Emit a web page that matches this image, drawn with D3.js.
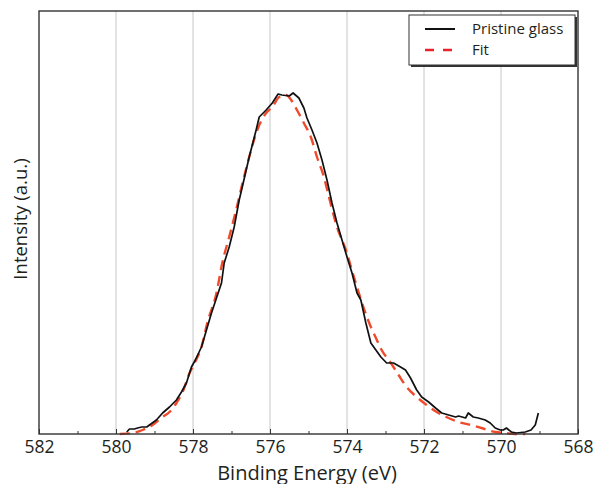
<!DOCTYPE html>
<html>
<head>
<meta charset="utf-8">
<script src="https://cdn.jsdelivr.net/npm/d3@7"></script>
<style>
  body { margin: 0; background: #fff; }
  svg text { font-family: "Open Sans", "DejaVu Sans", sans-serif; fill: #231f20; }
</style>
</head>
<body>
<svg id="chart"></svg>
<script>
// Pristine glass spectrum (binding energy in eV, intensity in a.u.)
var measEnergy = [579.72, 579.65, 579.52, 579.44, 579.33, 579.20, 579.13, 578.95, 578.79, 578.61,
  578.43, 578.30, 578.17, 578.04, 577.94, 577.78, 577.65, 577.52, 577.26, 577.19,
  577.06, 576.93, 576.80, 576.72, 576.54, 576.36, 576.28, 576.10, 575.94, 575.79,
  575.69, 575.50, 575.40, 575.25, 575.12, 575.04, 574.91, 574.78, 574.65, 574.52,
  574.39, 574.26, 574.13, 574.00, 573.87, 573.74, 573.64, 573.51, 573.38, 573.25,
  573.12, 572.97, 572.79, 572.61, 572.48, 572.35, 572.19, 572.06, 571.88, 571.70,
  571.54, 571.36, 571.18, 571.10, 570.92, 570.85, 570.72, 570.59, 570.41, 570.28,
  570.15, 570.02, 569.94, 569.86, 569.73, 569.60, 569.37, 569.22, 569.11, 569.03];
var measIntensity = [2, 5, 5, 6, 7, 7, 9, 14, 21, 27,
  34, 42, 51, 67, 74, 87, 104, 121, 151, 171,
  187, 207, 234, 247, 277, 304, 317, 324, 331, 340,
  339, 338, 341, 336, 326, 316, 304, 291, 274, 254,
  231, 211, 194, 177, 161, 141, 134, 111, 91, 84,
  77, 71, 71, 67, 64, 56, 44, 37, 32, 26,
  21, 19, 17, 18, 16, 21, 17, 16, 14, 11,
  6, 4, 4, 6, 2, 1, 2, 4, 9, 21];

// Fit curve
var fitEnergy = [579.90, 579.57, 579.31, 579.05, 578.79, 578.61, 578.43, 578.27, 578.09, 577.96,
  577.78, 577.63, 577.39, 577.24, 577.06, 576.88, 576.72, 576.54, 576.33, 576.10,
  575.94, 575.76, 575.58, 575.45, 575.30, 575.12, 574.93, 574.78, 574.60, 574.52,
  574.26, 574.03, 573.82, 573.61, 573.38, 573.26, 573.10, 572.86, 572.66, 572.45,
  572.19, 571.93, 571.67, 571.42, 571.10, 570.79, 570.51, 570.15, 569.89, 569.63, 569.37];
var fitIntensity = [0, 1, 4, 9, 17, 22, 31, 42, 61, 71,
  87, 111, 141, 171, 197, 224, 250, 277, 304, 321,
  327, 337, 339, 334, 324, 311, 296, 277, 257, 245,
  207, 184, 157, 131, 107, 97, 84, 71, 59, 47,
  37, 29, 22, 17, 12, 9, 6, 2, 1, 0, 0];

var xTicks = [582, 580, 578, 576, 574, 572, 570, 568];
var xMinorTicks = [581, 579, 577, 575, 573, 571, 569];
var seriesNames = ["Pristine glass", "Fit"];

var W = 597, H = 484;
var margin = { top: 11, right: 19, bottom: 50, left: 39 };
var width = W - margin.left - margin.right;
var height = H - margin.top - margin.bottom;

var svg = d3.select("#chart").attr("width", W).attr("height", H);
var g = svg.append("g")
  .attr("transform", "translate(" + margin.left + "," + margin.top + ")");

var x = d3.scaleLinear().domain([582, 568]).range([0, width]);
var y = d3.scaleLinear().domain([0, 423]).range([height, 0]);

// vertical grid
g.selectAll(".grid")
  .data(xTicks.slice(1, -1))
  .enter().append("line")
  .attr("x1", d => x(d)).attr("x2", d => x(d))
  .attr("y1", 0).attr("y2", height)
  .attr("stroke", "#c6c6c6").attr("stroke-width", 1);

// minor ticks
g.append("g")
  .attr("transform", "translate(0," + height + ")")
  .call(d3.axisBottom(x).tickValues(xMinorTicks).tickSize(-3).tickFormat(""))
  .call(a => a.select(".domain").remove())
  .selectAll("line").attr("stroke", "#333");

// major axis
var xAxis = g.append("g")
  .attr("transform", "translate(0," + height + ")")
  .call(d3.axisBottom(x).tickValues(xTicks).tickSize(-5).tickPadding(7).tickFormat(d3.format("d")));
xAxis.select(".domain").remove();
xAxis.selectAll("line").attr("stroke", "#333");
xAxis.selectAll("text").attr("font-size", 17.5).style("font-family", '"Open Sans", sans-serif').attr("fill", "#231f20");

var lineMeas = d3.line()
  .x((d, i) => x(measEnergy[i]))
  .y(d => y(d));
var lineFit = d3.line()
  .curve(d3.curveMonotoneX)
  .x((d, i) => x(fitEnergy[i]))
  .y(d => y(d));

g.append("path")
  .datum(fitIntensity)
  .attr("fill", "none")
  .attr("stroke", "#f04a2c")
  .attr("stroke-width", 2.4)
  .attr("stroke-dasharray", "10,6")
  .attr("d", lineFit);

g.append("path")
  .datum(measIntensity)
  .attr("fill", "none")
  .attr("stroke", "#111")
  .attr("stroke-width", 1.7)
  .attr("stroke-linejoin", "round")
  .attr("d", lineMeas);

// frame
g.append("rect")
  .attr("width", width).attr("height", height)
  .attr("fill", "none").attr("stroke", "#333").attr("stroke-width", 1.4);

// axis titles
svg.append("text")
  .attr("x", 307).attr("y", 479.5)
  .attr("text-anchor", "middle").attr("font-size", 20)
  .text("Binding Energy (eV)");
svg.append("text")
  .attr("transform", "translate(26.5,219) rotate(-90)")
  .attr("text-anchor", "middle").attr("font-size", 18.5)
  .text("Intensity (a.u.)");

// legend
var lg = svg.append("g").attr("transform", "translate(409,15)");
lg.append("rect").attr("x", 2).attr("y", 2).attr("width", 166).attr("height", 50).attr("fill", "#333");
lg.append("rect").attr("width", 166).attr("height", 50).attr("fill", "#fff").attr("stroke", "#333").attr("stroke-width", 1);
var styles = [{ c: "#111", w: 2, dash: null }, { c: "#e8232b", w: 2.4, dash: "9,9" }];
seriesNames.forEach(function (name, i) {
  var yy = 14 + i * 21;
  lg.append("line").attr("x1", 16).attr("x2", 46).attr("y1", yy).attr("y2", yy)
    .attr("stroke", styles[i].c).attr("stroke-width", styles[i].w)
    .attr("stroke-dasharray", styles[i].dash);
  lg.append("text").attr("x", 63).attr("y", yy + 5).attr("font-size", 15).text(name);
});
</script>
</body>
</html>
